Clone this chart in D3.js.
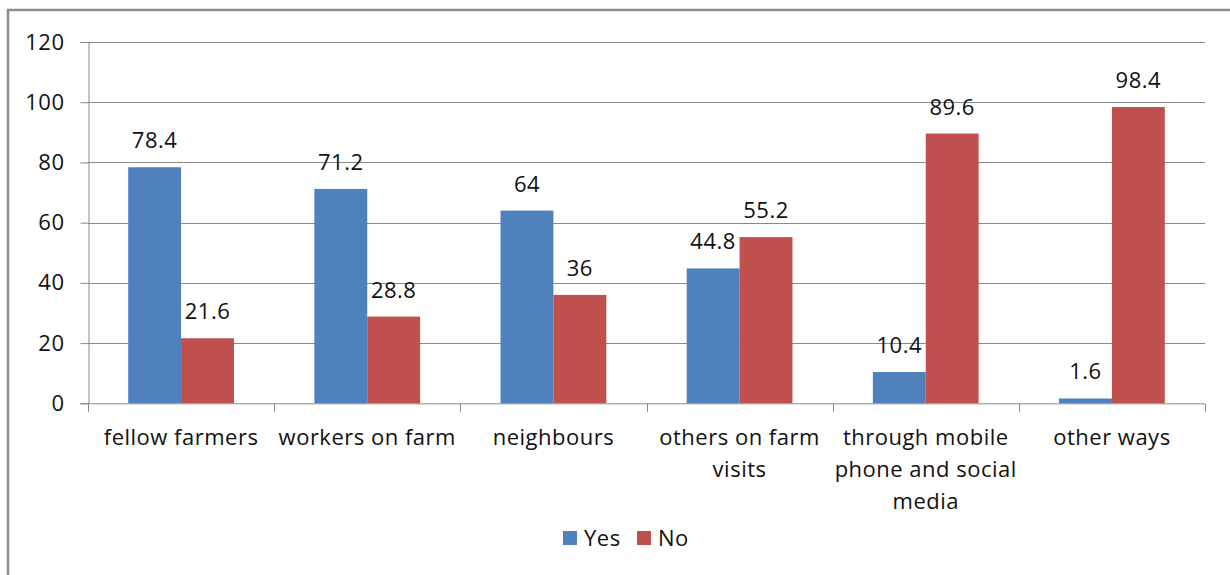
<!DOCTYPE html>
<html>
<head>
<meta charset="utf-8">
<script src="https://cdn.jsdelivr.net/npm/d3@7/dist/d3.min.js"></script>
<style>
  html, body { margin: 0; padding: 0; background: #fff; }
  svg { display: block; font-family: "Open Sans", Lato, sans-serif; }
</style>
</head>
<body>
<svg id="chart" width="1230" height="575"></svg>
<script>
// Sources of information, share of respondents (%)
const categories = [
  "fellow farmers",
  "workers on farm",
  "neighbours",
  "others on farm visits",
  "through mobile phone and social media",
  "other ways"
];
const seriesNames = ["Yes", "No"];
const yesValues = [78.4, 71.2, 64, 44.8, 10.4, 1.6];
const noValues  = [21.6, 28.8, 36, 55.2, 89.6, 98.4];
const yTicks = [0, 20, 40, 60, 80, 100, 120];
const colors = ["#4F81BD", "#C0504D"];

const svg = d3.select("#chart");
const W = 1230, H = 575;
const fontSize = 22;
const spacing = 0.5;
const fontFamily = "'Open Sans', Lato, sans-serif";

// outer frame
svg.append("rect")
  .attr("x", 8).attr("y", 10)
  .attr("width", W).attr("height", H)
  .attr("fill", "none").attr("stroke", "#8c8c8c").attr("stroke-width", 2.5);

const plot = { left: 88, right: 1205, top: 42, bottom: 403.3 };

const x = d3.scaleBand().domain(categories).range([plot.left, plot.right]).paddingInner(0).paddingOuter(0);
const inner = d3.scaleBand().domain(seriesNames).range([0, x.bandwidth()]).paddingInner(0).paddingOuter(0.76);
const y = d3.scaleLinear().domain([0, 120]).range([plot.bottom, plot.top]);

// gridlines
svg.append("g")
  .selectAll("line")
  .data(yTicks.filter(t => t > 0))
  .join("line")
  .attr("x1", plot.left).attr("x2", plot.right)
  .attr("y1", d => Math.round(y(d)) + 0.5).attr("y2", d => Math.round(y(d)) + 0.5)
  .attr("stroke", "#8a8a8a").attr("stroke-width", 1);

// y axis
const yAxis = svg.append("g")
  .attr("transform", `translate(${plot.left + 0.5},0)`)
  .call(d3.axisLeft(y).tickValues(yTicks).tickSize(8).tickPadding(16).tickFormat(d3.format("d")));
yAxis.select(".domain").attr("stroke", "#8a8a8a");
yAxis.selectAll(".tick line").attr("stroke", "#8a8a8a");
yAxis.selectAll(".tick text")
  .attr("font-size", fontSize).attr("fill", "#111").attr("font-family", fontFamily)
  .attr("letter-spacing", spacing);

// bars
const data = categories.map((c, i) => ({ cat: c, values: [yesValues[i], noValues[i]] }));
const groups = svg.append("g").selectAll("g")
  .data(data).join("g")
  .attr("transform", d => `translate(${x(d.cat)},0)`);

groups.selectAll("rect")
  .data(d => d.values.map((v, j) => ({ key: seriesNames[j], v, j })))
  .join("rect")
  .attr("x", d => inner(d.key))
  .attr("width", inner.bandwidth())
  .attr("y", d => y(d.v))
  .attr("height", d => y(0) - y(d.v))
  .attr("fill", d => colors[d.j]);

// value labels
groups.selectAll("text.val")
  .data(d => d.values.map((v, j) => ({ key: seriesNames[j], v, j })))
  .join("text")
  .attr("class", "val")
  .attr("x", d => inner(d.key) + inner.bandwidth() / 2)
  .attr("y", d => y(d.v) - 19)
  .attr("text-anchor", "middle")
  .attr("font-size", fontSize)
  .attr("letter-spacing", spacing)
  .attr("fill", "#111")
  .text(d => d3.format("")(d.v));

// x axis
const xAxis = svg.append("g")
  .attr("transform", `translate(0,${plot.bottom + 0.5})`);
xAxis.append("line")
  .attr("x1", plot.left).attr("x2", plot.right)
  .attr("stroke", "#8a8a8a");
const boundaries = categories.map(c => x(c)).concat([plot.right]);
xAxis.selectAll("line.tk")
  .data(boundaries).join("line")
  .attr("class", "tk")
  .attr("x1", d => Math.round(d) + 0.5).attr("x2", d => Math.round(d) + 0.5)
  .attr("y1", 0).attr("y2", 8)
  .attr("stroke", "#8a8a8a");

// category labels, wrapped to the band width
const maxW = x.bandwidth() - 1;
const lineH = 32;
categories.forEach(c => {
  const cx = x(c) + x.bandwidth() / 2;
  const t = svg.append("text")
    .attr("x", cx)
    .attr("y", 445)
    .attr("text-anchor", "middle")
    .attr("font-size", fontSize)
    .attr("letter-spacing", spacing)
    .attr("fill", "#111");
  const words = c.split(" ");
  let line = [];
  let tspan = t.append("tspan").attr("x", cx).attr("dy", 0);
  words.forEach(w => {
    line.push(w);
    tspan.text(line.join(" "));
    if (tspan.node().getComputedTextLength() > maxW && line.length > 1) {
      line.pop();
      tspan.text(line.join(" "));
      line = [w];
      tspan = t.append("tspan").attr("x", cx).attr("dy", lineH).text(w);
    }
  });
});

// legend
const legend = svg.append("g").attr("transform", "translate(563,531)");
const items = [{ name: "Yes", dx: 0 }, { name: "No", dx: 74 }];
items.forEach((it, i) => {
  legend.append("rect").attr("x", it.dx).attr("y", 0).attr("width", 14).attr("height", 14).attr("fill", colors[i]);
  legend.append("text").attr("x", it.dx + 21).attr("y", 15)
    .attr("font-size", fontSize).attr("letter-spacing", spacing)
    .attr("fill", "#111").text(it.name);
});
</script>
</body>
</html>
